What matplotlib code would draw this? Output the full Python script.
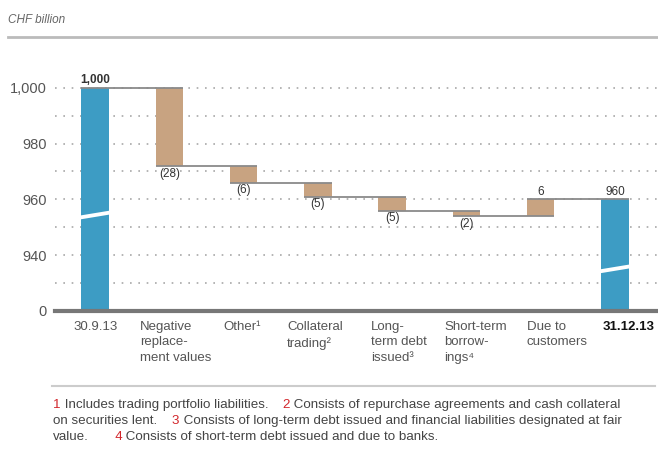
import numpy as np
import matplotlib
matplotlib.use("Agg")
import matplotlib.pyplot as plt

plt.rcParams['font.family'] = ['Liberation Sans', 'DejaVu Sans']

# data (CHF billion)
categories = ['30.9.13', 'Negative\nreplace-\nment values', 'Other\u00b9', 'Collateral\ntrading\u00b2',
              'Long-\nterm debt\nissued\u00b3', 'Short-term\nborrow-\nings\u2074', 'Due to\ncustomers', '31.12.13']
values = [1000, -28, -6, -5, -5, -2, 6, 960]
is_total = [True, False, False, False, False, False, False, True]
value_labels = ['1,000', '(28)', '(6)', '(5)', '(5)', '(2)', '6', '960']
ytick_vals = [920, 940, 960, 980, 1000]
ytick_labels = ['0', '940', '960', '980', '1,000']

BLUE = '#3d9cc4'
BROWN = '#c8a381'
GREY = '#8a8a8a'
TXT = '#444444'

W, H = 658, 449
fig = plt.figure(figsize=(W / 100, H / 100), dpi=100)
ax = fig.add_axes([55 / W, 1 - 311 / H, 1 - 55 / W, (311 - 71) / H])

x = np.arange(len(values))
bw = 0.37
bottoms, heights, tops = [], [], []
run = 0
for v, tot in zip(values, is_total):
    if tot:
        bottoms.append(920)
        heights.append(v - 920)
        run = v
    else:
        bottoms.append(min(run, run + v))
        heights.append(abs(v))
        run = run + v
    tops.append(run)

colors = [BLUE if t else BROWN for t in is_total]
ax.bar(x, heights, bottom=bottoms, width=bw, color=colors, zorder=3)

# connector lines
for i in range(len(values) - 1):
    ax.plot([x[i] - bw / 2, x[i + 1] + bw / 2], [tops[i], tops[i]], color=GREY, lw=1.3,
            zorder=4, solid_capstyle='butt')

# axis break marks on total bars
for i, lvl in [(0, 954.5), (7, 935.2)]:
    xs = [x[i] - bw / 2 - 0.02, x[i] + bw / 2 + 0.02, x[i] + bw / 2 + 0.02, x[i] - bw / 2 - 0.02]
    ys = [lvl - 1.7, lvl + 0.1, lvl + 1.5, lvl - 0.3]
    ax.fill(xs, ys, color='white', zorder=5, lw=0)

# value labels
for i, (v, lab) in enumerate(zip(values, value_labels)):
    if is_total[i] or v > 0:
        ax.text(x[i], tops[i] + 0.6, lab, ha='center', va='bottom', fontsize=8.5,
                color='#333333', fontweight='bold' if i == 0 else 'normal', zorder=6)
    else:
        ax.text(x[i], tops[i] - 0.6, lab, ha='center', va='top', fontsize=8.5,
                color='#333333', zorder=6)

ax.set_xlim(-0.54, 7.58)
ax.set_ylim(920, 1006)
ax.set_yticks(ytick_vals)
ax.set_yticklabels(ytick_labels, fontsize=10.5, color='#555555')
ax.tick_params(axis='y', length=0, pad=6)
ax.set_xticks([])
for yy in range(930, 1001, 10):
    ax.axhline(yy, color='#a8a8a8', lw=1.2, ls=(0, (1, 4)), zorder=1)
for s in ['top', 'right', 'left']:
    ax.spines[s].set_visible(False)
ax.spines['bottom'].set_color('#777777')
ax.spines['bottom'].set_linewidth(3)
ax.spines['bottom'].set_zorder(6)

# category labels (left aligned, pixel offsets from bar centre)
label_dx = [-22, -29, -20, -31, -21, -22, -14, -12]
for i, (cat, dx) in enumerate(zip(categories, label_dx)):
    px = 95 + 74.3 * i + dx
    fig.text(px / W, 1 - 321 / H, cat, ha='left', va='top', fontsize=9.5,
             color='#111111' if i == 7 else '#555555', linespacing=1.38,
             fontweight='bold' if i == 7 else 'normal')

# header
fig.text(8 / W, 1 - 20 / H, 'CHF billion', fontsize=8.5, style='italic', color='#666666', va='center')
fig.add_artist(plt.Line2D([8 / W, 1], [1 - 37 / H, 1 - 37 / H], color='#bbbbbb', lw=2))
fig.add_artist(plt.Line2D([52 / W, 655 / W], [1 - 386 / H, 1 - 386 / H], color='#cccccc', lw=1.5))

# footnotes
RED = '#d2262b'
foot = [
    [('1', RED), (' Includes trading portfolio liabilities.', TXT), ('    2', RED),
     (' Consists of repurchase agreements and cash collateral', TXT)],
    [('on securities lent.', TXT), ('    3', RED),
     (' Consists of long-term debt issued and financial liabilities designated at fair', TXT)],
    [('value.', TXT), ('       4', RED), (' Consists of short-term debt issued and due to banks.', TXT)],
]
fig.canvas.draw()
renderer = fig.canvas.get_renderer()
for j, parts in enumerate(foot):
    px = 53
    for s, c in parts:
        t = fig.text(px / W, 1 - (405 + 16 * j) / H, s, color=c, fontsize=9.6, va='center', ha='left')
        px += t.get_window_extent(renderer).width

fig.savefig('out.png', dpi=100)
